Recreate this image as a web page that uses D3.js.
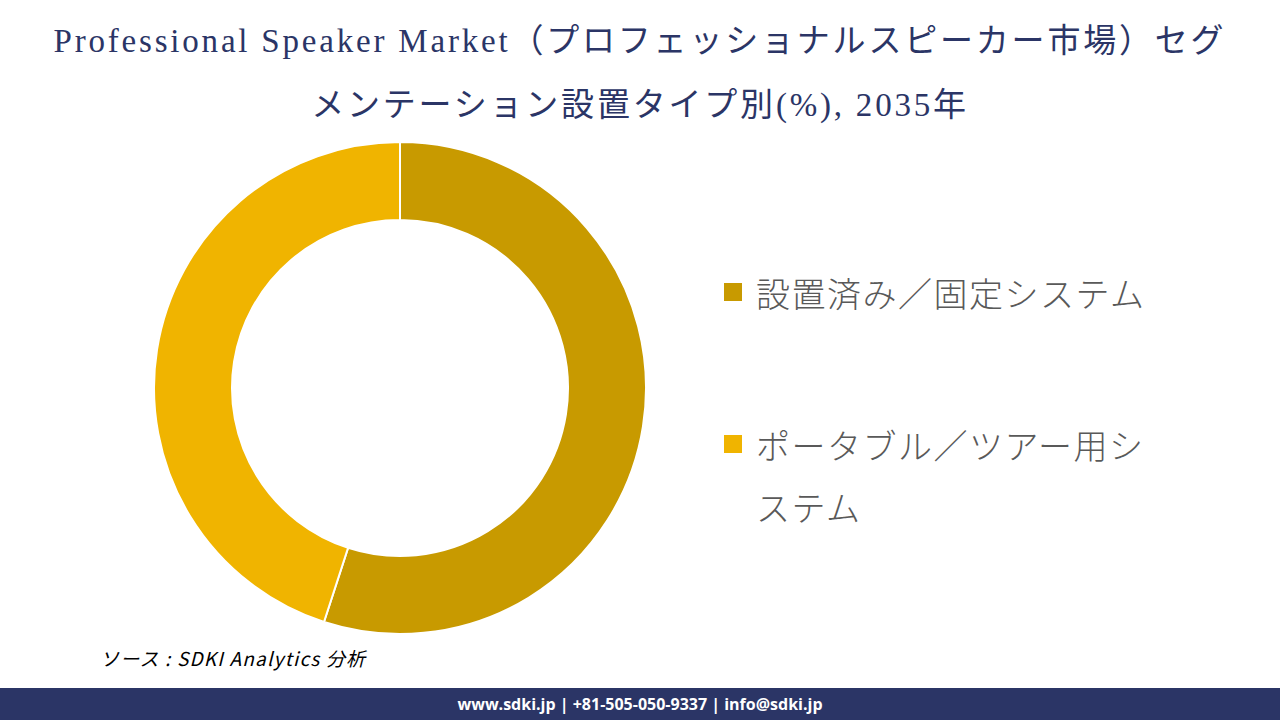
<!DOCTYPE html>
<html><head><meta charset="utf-8">
<script src="https://cdn.jsdelivr.net/npm/d3@7"></script>
<style>body{margin:0;background:#fff;}svg{display:block;}</style>
</head><body>
<svg id="c" width="1280" height="720"></svg>
<script>
const categories = ["設置済み／固定システム", "ポータブル／ツアー用システム"];
const values = [55, 45];
const colors = ["#c89a00", "#f0b400"];

const svg = d3.select("#c");
const serif = "'Liberation Serif','DejaVu Serif','Noto Sans CJK JP',serif";
const sans = "'Noto Sans CJK JP','Noto Sans',sans-serif";

const title = svg.append("text").attr("x",640).attr("text-anchor","middle")
  .attr("fill","#2b3566").attr("font-family",serif).attr("font-size",33).attr("letter-spacing",2.8);
title.append("tspan").attr("x",640).attr("y",52).text("Professional Speaker Market（プロフェッショナルスピーカー市場）セグ");
title.append("tspan").attr("x",640).attr("y",116).text("メンテーション設置タイプ別(%), 2035年");

const pie = d3.pie().sort(null).value(d=>d)(values);
const arc = d3.arc().innerRadius(168).outerRadius(246);
svg.append("g").attr("transform","translate(400,388)")
  .selectAll("path").data(pie).join("path")
  .attr("d",arc).attr("fill",(d,i)=>colors[i]).attr("stroke","#fff").attr("stroke-width",2);

const leg = svg.append("g");
const legY = [292, 444];
categories.forEach((c,i)=>{
  leg.append("rect").attr("x",724).attr("y",legY[i]-9).attr("width",18).attr("height",18).attr("fill",colors[i]);
  const t = leg.append("text").attr("fill","#595959").attr("font-family",sans).attr("font-size",34)
    .attr("font-weight",300).attr("letter-spacing",1.5).attr("dominant-baseline","central");
  if(i===0) t.append("tspan").attr("x",756).attr("y",legY[i]).text(c);
  else {
    t.append("tspan").attr("x",756).attr("y",legY[i]).text("ポータブル／ツアー用シ");
    t.append("tspan").attr("x",756).attr("y",legY[i]+62).text("ステム");
  }
});

svg.append("text").attr("x",100).attr("y",666).attr("font-family",sans).attr("font-style","italic")
  .attr("font-size",19).attr("letter-spacing",1.2).attr("fill","#000").text("ソース : SDKI Analytics 分析");

svg.append("rect").attr("x",0).attr("y",688).attr("width",1280).attr("height",32).attr("fill","#2b3566");
svg.append("text").attr("x",640).attr("y",710).attr("text-anchor","middle").attr("fill","#fff")
  .attr("font-family","'Open Sans','Noto Sans',sans-serif").attr("font-weight","bold").attr("font-size",16)
  .text("www.sdki.jp | +81-505-050-9337 | info@sdki.jp");
</script>
</body></html>
